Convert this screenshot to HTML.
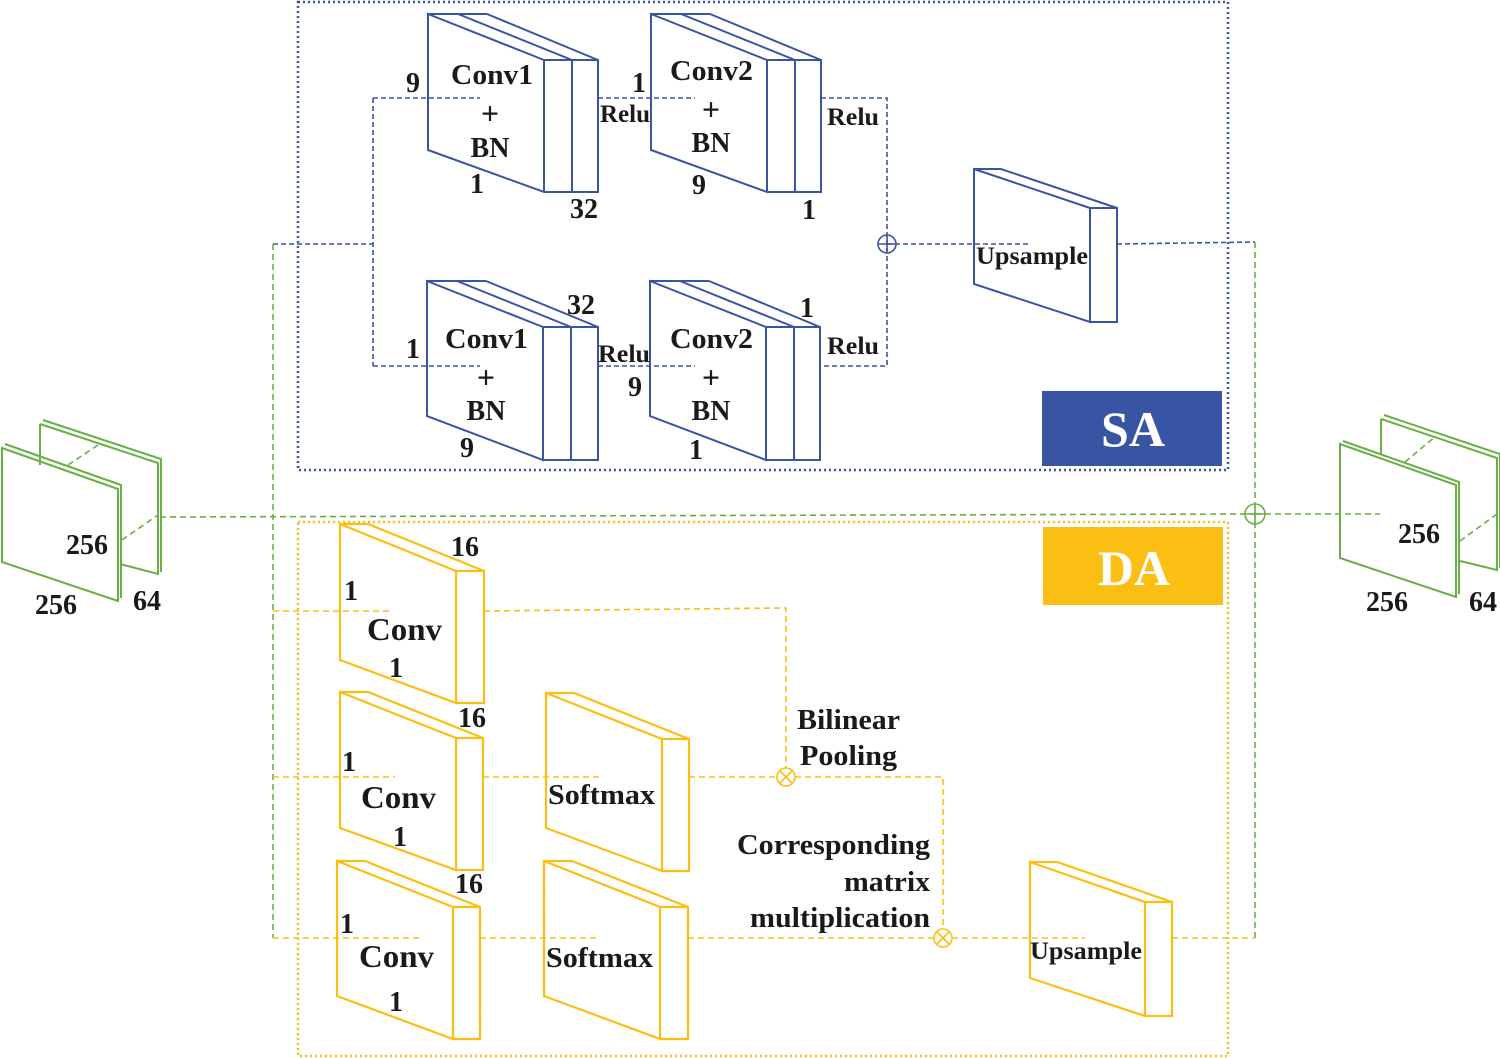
<!DOCTYPE html>
<html><head><meta charset="utf-8"><style>
body{margin:0;background:#fff}
svg{display:block}
text{font-family:"Liberation Serif",serif;font-weight:bold;fill:#1a1a1a}
</style></head><body>
<svg width="1500" height="1058" viewBox="0 0 1500 1058" xmlns="http://www.w3.org/2000/svg">
<rect x="298" y="2" width="930" height="468" fill="none" stroke="#3a54a4" stroke-width="2.5" stroke-dasharray="2,3"/>
<rect x="1042" y="391" width="180" height="75" fill="#3a54a4"/>
<text x="1133" y="446" font-size="50" text-anchor="middle" style="fill:#fff">SA</text>
<rect x="298" y="522" width="930" height="534" fill="none" stroke="#fbbf14" stroke-width="2.5" stroke-dasharray="2,3"/>
<rect x="1043" y="527" width="180" height="78" fill="#fbbf14"/>
<text x="1134" y="585" font-size="50" text-anchor="middle" style="fill:#fff">DA</text>

<g fill="none" stroke="#3a54a4" stroke-width="1.6" stroke-dasharray="5,3">
<path d="M273 244 H373 M373 98 V366 M373 98 H480 M373 366 H480 M598 98 H695 M598 366 H695 M821 98 H887 V366 H821 M887 244 H1030 M1117 244 L1255 242"/>
</g>
<circle cx="887" cy="244" r="9" fill="none" stroke="#3a54a4" stroke-width="1.6"/>
<path d="M878 244 H896 M887 235 V253" stroke="#3a54a4" stroke-width="1.6"/>

<g fill="none" stroke="#3a54a4" stroke-width="2">
<path d="M428 14 L544 60 V192 L428 150 Z M544 60 H598 V192 H544 M572 60 V192 M428 14 H487 M458 14 L572 60 M487 14 L598 60"/>
<path d="M651 14 L767 60 V192 L651 150 Z M767 60 H821 V192 H767 M795 60 V192 M651 14 H710 M681 14 L795 60 M710 14 L821 60"/>
<path d="M427 281 L543 327 V460 L427 416 Z M543 327 H598 V460 H543 M571 327 V460 M427 281 H486 M457 281 L571 327 M486 281 L598 327"/>
<path d="M650 281 L766 327 V460 L650 416 Z M766 327 H820 V460 H766 M794 327 V460 M650 281 H709 M680 281 L794 327 M709 281 L820 327"/>
<path d="M974 169 L1090 208 V322 L974 284 Z M1090 208 H1117 V322 H1090 M974 169 H1001 L1117 208"/>
</g>

<g fill="none" stroke="#6aaf45" stroke-width="1.6" stroke-dasharray="6,4">
<path d="M160 517 L1255 514 M273 244 V938 M1255 242 V938 M1255 514 H1380"/>
<path d="M68 465 L98 445 M122 540 L158 515"/>
<path d="M1405 462 L1436 436 M1460 541 L1497 514"/>
</g>
<circle cx="1255" cy="514" r="10" fill="none" stroke="#6aaf45" stroke-width="1.6"/>
<path d="M1245 514 H1265 M1255 504 V524" stroke="#6aaf45" stroke-width="1.6"/>
<g fill="none" stroke="#6aaf45" stroke-width="2">
<path d="M40 424 L158 463 V574 L120 564 M43 420 L161 459 V572 M40 424 V465"/>
<path d="M2 448 L118 489 V601 L2 562 Z M5 444 L121 485 V598"/>
<path d="M1381 419 L1497 458 V570 L1460 561 M1384 415 L1500 454 V568 M1381 419 V455"/>
<path d="M1340 444 L1456 485 V597 L1340 558 Z M1343 441 L1459 482 V594"/>
</g>

<g fill="none" stroke="#fbbf14" stroke-width="1.6" stroke-dasharray="6,4">
<path d="M273 611 H392 M484 611 L786 608 V768 M273 777 H395 M483 777 H602 M689 777 H777 M795 777 H943 V929 M273 938 H420 M480 938 H600 M688 938 H934 M952 938 H1085 M1172 938 H1255"/>
</g>
<g fill="none" stroke="#fbbf14" stroke-width="1.6">
<circle cx="786" cy="777" r="9"/><path d="M780 771 L792 783 M792 771 L780 783"/>
<circle cx="943" cy="938" r="9"/><path d="M937 932 L949 944 M949 932 L937 944"/>
</g>
<g fill="none" stroke="#fbbf14" stroke-width="2.2">
<path d="M340 524 L456 571 V703 L340 660 Z M456 571 H484 V703 H456 M340 524 H368 L484 571"/>
<path d="M340 692 L456 738 V870 L340 828 Z M456 738 H483 V870 H456 M340 692 H368 L483 738"/>
<path d="M337 861 L453 907 V1039 L337 996 Z M453 907 H480 V1039 H453 M337 861 H365 L480 907"/>
<path d="M546 693 L662 739 V871 L546 828 Z M662 739 H689 V871 H662 M546 693 H574 L689 739"/>
<path d="M544 861 L660 907 V1039 L544 996 Z M660 907 H688 V1039 H660 M544 861 H572 L688 907"/>
<path d="M1030 862 L1145 902 V1016 L1030 978 Z M1145 902 H1172 V1016 H1145 M1030 862 H1057 L1172 902"/>
</g>

<g font-size="28">
<text x="451" y="84" textLength="82" lengthAdjust="spacingAndGlyphs">Conv1</text>
<text x="490" y="124" text-anchor="middle" font-size="32">+</text>
<text x="490" y="157" text-anchor="middle">BN</text>
<text x="406" y="92">9</text><text x="470" y="193">1</text><text x="570" y="218">32</text>
<text x="670" y="80" textLength="83" lengthAdjust="spacingAndGlyphs">Conv2</text>
<text x="711" y="120" text-anchor="middle" font-size="32">+</text>
<text x="711" y="152" text-anchor="middle">BN</text>
<text x="632" y="92">1</text><text x="692" y="194">9</text><text x="802" y="219">1</text>
<text x="445" y="348" textLength="83" lengthAdjust="spacingAndGlyphs">Conv1</text>
<text x="486" y="388" text-anchor="middle" font-size="32">+</text>
<text x="486" y="420" text-anchor="middle">BN</text>
<text x="406" y="358">1</text><text x="460" y="457">9</text><text x="567" y="314">32</text>
<text x="670" y="348" textLength="83" lengthAdjust="spacingAndGlyphs">Conv2</text>
<text x="711" y="388" text-anchor="middle" font-size="32">+</text>
<text x="711" y="420" text-anchor="middle">BN</text>
<text x="628" y="396">9</text><text x="689" y="459">1</text><text x="800" y="317">1</text>
<text x="66" y="554">256</text><text x="35" y="614">256</text><text x="133" y="610">64</text>
<text x="1398" y="543">256</text><text x="1366" y="611">256</text><text x="1469" y="611">64</text>
<text x="344" y="600">1</text><text x="367" y="640" font-size="32" textLength="75" lengthAdjust="spacingAndGlyphs">Conv</text><text x="389" y="677">1</text><text x="451" y="556">16</text>
<text x="342" y="771">1</text><text x="361" y="808" font-size="32" textLength="75" lengthAdjust="spacingAndGlyphs">Conv</text><text x="393" y="846">1</text><text x="458" y="727">16</text>
<text x="340" y="933">1</text><text x="359" y="967" font-size="32" textLength="75" lengthAdjust="spacingAndGlyphs">Conv</text><text x="389" y="1011">1</text><text x="455" y="893">16</text>
</g>
<g font-size="25">
<text x="600" y="122" textLength="50" lengthAdjust="spacingAndGlyphs">Relu</text><text x="827" y="125" textLength="52" lengthAdjust="spacingAndGlyphs">Relu</text>
<text x="598" y="362" textLength="52" lengthAdjust="spacingAndGlyphs">Relu</text><text x="827" y="354" textLength="52" lengthAdjust="spacingAndGlyphs">Relu</text>
<text x="976" y="264" textLength="112" lengthAdjust="spacingAndGlyphs">Upsample</text>
<text x="1030" y="959" textLength="112" lengthAdjust="spacingAndGlyphs">Upsample</text>
<text x="548" y="804" font-size="28" textLength="107" lengthAdjust="spacingAndGlyphs">Softmax</text>
<text x="546" y="967" font-size="28" textLength="107" lengthAdjust="spacingAndGlyphs">Softmax</text>
</g>
<g font-size="28">
<text x="797" y="729" textLength="103" lengthAdjust="spacingAndGlyphs">Bilinear</text>
<text x="800" y="765" textLength="97" lengthAdjust="spacingAndGlyphs">Pooling</text>
<text x="737" y="854" textLength="193" lengthAdjust="spacingAndGlyphs">Corresponding</text>
<text x="844" y="891" textLength="86" lengthAdjust="spacingAndGlyphs">matrix</text>
<text x="750" y="927" textLength="180" lengthAdjust="spacingAndGlyphs">multiplication</text>
</g>
</svg>
</body></html>
